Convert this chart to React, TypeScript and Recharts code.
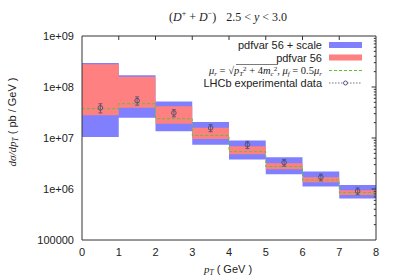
import {
  ComposedChart,
  Area,
  Line,
  Scatter,
  ErrorBar,
  XAxis,
  YAxis,
  ReferenceLine,
} from "recharts";

// bins in pT (GeV)
const binEdges = [0, 1, 2, 3, 4, 5, 6, 7, 8];
const binCenters = [0.5, 1.5, 2.5, 3.5, 4.5, 5.5, 6.5, 7.5];

// pdfvar 56 + scale band
const scaleLow = [1.05e7, 2.5e7, 1.36e7, 7.4e6, 3.8e6, 1.95e6, 1.12e6, 6.5e5];
const scaleHigh = [2.95e8, 1.7e8, 5.2e7, 2.05e7, 8.9e6, 4.2e6, 2.2e6, 1.2e6];
// pdfvar 56 band
const pdfLow = [2.8e7, 3.9e7, 1.9e7, 9.6e6, 4.8e6, 2.45e6, 1.35e6, 7.6e5];
const pdfHigh = [2.8e8, 1.58e8, 4.2e7, 1.58e7, 6.9e6, 3.2e6, 1.7e6, 9.5e5];
// central scale choice
const central = [3.76e7, 4.7e7, 2.39e7, 1.12e7, 5.4e6, 2.76e6, 1.5e6, 8.5e5];
// LHCb data
const lhcb = [3.9e7, 5.4e7, 3.1e7, 1.58e7, 7.4e6, 3.3e6, 1.7e6, 9.1e5];
const lhcbErr = [8e6, 1e7, 5e6, 2.5e6, 1.2e6, 5e5, 2.6e5, 1.4e5];

const yTicks = [1e5, 1e6, 1e7, 1e8, 1e9];
const xTicks = [0, 1, 2, 3, 4, 5, 6, 7, 8];

const rows = binEdges.map((x, i) => {
  const k = Math.min(i, scaleLow.length - 1);
  return {
    x,
    scale: [scaleLow[k], scaleHigh[k]],
    pdf: [pdfLow[k], pdfHigh[k]],
    central: central[k],
  };
});

const points = binCenters.map((x, i) => ({ x, y: lhcb[i], err: lhcbErr[i] }));

const fmtY = (v: number) => (v === 1e5 ? "100000" : "1e+0" + Math.round(Math.log10(v)));

// minor ticks on the right border
const minorTicks: number[] = [];
[1e5, 1e6, 1e7, 1e8].forEach((d) => {
  for (let m = 2; m <= 9; m++) minorTicks.push(d * m);
});

const SANS = "'Liberation Sans', Arial, sans-serif";
const SERIF = "'Liberation Serif', 'DejaVu Serif', serif";
const INK = "#333";
const BLUE = "#8080ff";
const RED = "#ff8080";
const GREEN = "#5cc23c";
const DATA = "#4a4a70";

const DataPoint = (props: any) => {
  const { cx, cy } = props;
  return <circle cx={cx} cy={cy} r={2.3} fill="none" stroke={DATA} strokeWidth={0.9} />;
};

export default function App() {
  return (
    <div
      style={{
        position: "absolute",
        left: 0,
        top: 0,
        width: 398,
        height: 279,
        background: "#fff",
      }}
    >
      <ComposedChart
        width={398}
        height={279}
        data={rows}
        margin={{ top: 36, right: 22, bottom: 0, left: 0 }}
      >
        <XAxis
          dataKey="x"
          type="number"
          domain={[0, 8]}
          ticks={xTicks}
          interval={0}
          height={39}
          tickLine={false}
          axisLine={{ stroke: INK }}
          tick={{ fontSize: 11, fontFamily: SANS, fill: "#222" }}
        />
        <YAxis
          scale="log"
          domain={[1e5, 1e9]}
          ticks={yTicks}
          interval={0}
          allowDataOverflow
          width={82}
          tickLine={false}
          axisLine={{ stroke: INK }}
          tickFormatter={fmtY}
          tick={{ fontSize: 11, fontFamily: SANS, fill: "#222" }}
        />
        <Area
          type="stepAfter"
          dataKey="scale"
          fill={BLUE}
          fillOpacity={1}
          stroke="none"
          isAnimationActive={false}
        />
        <Area
          type="stepAfter"
          dataKey="pdf"
          fill={RED}
          fillOpacity={1}
          stroke="none"
          isAnimationActive={false}
        />
        <Line
          type="stepAfter"
          dataKey="central"
          stroke={GREEN}
          strokeWidth={1}
          strokeDasharray="3 2"
          dot={false}
          isAnimationActive={false}
        />
        <Scatter
          data={points}
          dataKey="y"
          shape={<DataPoint />}
          isAnimationActive={false}
        >
          <ErrorBar dataKey="err" direction="y" width={2} stroke={DATA} strokeWidth={0.8} />
        </Scatter>
        <ReferenceLine y={1e9} stroke={INK} />
        <ReferenceLine x={8} stroke={INK} />
        {xTicks.slice(1, -1).map((x) => (
          <ReferenceLine
            key={"tx" + x}
            segment={[
              { x, y: 1e9 },
              { x, y: 1e9 / 1.2 },
            ]}
            stroke={INK}
          />
        ))}
        {yTicks.slice(1, -1).map((y) => (
          <ReferenceLine
            key={"ry" + y}
            segment={[
              { x: 8, y },
              { x: 7.88, y },
            ]}
            stroke={INK}
          />
        ))}
        {minorTicks.map((y) => (
          <ReferenceLine
            key={"my" + y}
            segment={[
              { x: 8, y },
              { x: 7.94, y },
            ]}
            stroke={INK}
          />
        ))}
      </ComposedChart>

      <svg
        width={398}
        height={279}
        style={{ position: "absolute", left: 0, top: 0, pointerEvents: "none" }}
      >
        {/* title */}
        <text x={228} y={21} textAnchor="middle" fontFamily={SERIF} fontSize={12} fill="#222">
          (<tspan fontStyle="italic">D</tspan>
          <tspan fontSize={8} dy={-5}>+</tspan>
          <tspan dy={5}> + </tspan>
          <tspan fontStyle="italic">D</tspan>
          <tspan fontSize={8} dy={-5}>−</tspan>
          <tspan dy={5}>)</tspan>
          <tspan dx={10}>2.5 &lt; </tspan>
          <tspan fontStyle="italic">y</tspan>
          <tspan> &lt; 3.0</tspan>
        </text>

        {/* legend */}
        <text x={322} y={49} textAnchor="end" fontFamily={SANS} fontSize={11} fill="#222">
          pdfvar 56 + scale
        </text>
        <rect x={329} y={42} width={33} height={6} fill={BLUE} />
        <text x={322} y={61.5} textAnchor="end" fontFamily={SANS} fontSize={11} fill="#222">
          pdfvar 56
        </text>
        <rect x={329} y={54.5} width={33} height={6} fill={RED} />
        <text x={322} y={74} textAnchor="end" fontFamily={SERIF} fontSize={10.5} fill="#222">
          <tspan fontStyle="italic">μ</tspan>
          <tspan fontSize={7} fontStyle="italic" dy={2}>r</tspan>
          <tspan dy={-2}> = √</tspan>
          <tspan fontStyle="italic">p</tspan>
          <tspan fontSize={7} fontStyle="italic" dy={2}>T</tspan>
          <tspan fontSize={7} dy={-5}>2</tspan>
          <tspan dy={3}> + 4</tspan>
          <tspan fontStyle="italic">m</tspan>
          <tspan fontSize={7} fontStyle="italic" dy={2}>c</tspan>
          <tspan fontSize={7} dy={-5}>2</tspan>
          <tspan dy={3}>, </tspan>
          <tspan fontStyle="italic">μ</tspan>
          <tspan fontSize={7} fontStyle="italic" dy={2}>f</tspan>
          <tspan dy={-2}> = 0.5</tspan>
          <tspan fontStyle="italic">μ</tspan>
          <tspan fontSize={7} fontStyle="italic" dy={2}>r</tspan>
        </text>
        <line x1={236} y1={64.5} x2={278} y2={64.5} stroke="#222" strokeWidth={0.6} />
        <line x1={329} y1={70.5} x2={362} y2={70.5} stroke={GREEN} strokeDasharray="3 2" />
        <text x={322} y={86.5} textAnchor="end" fontFamily={SANS} fontSize={11} fill="#222">
          LHCb experimental data
        </text>
        <line x1={329} y1={83} x2={362} y2={83} stroke={DATA} strokeDasharray="1.5 1.5" strokeWidth={0.8} />
        <circle cx={345.5} cy={83} r={2} fill="#fff" stroke={DATA} strokeWidth={0.9} />

        {/* axis titles */}
        <text
          transform="translate(16,122) rotate(-90)"
          textAnchor="middle"
          fontSize={11}
          fill="#222"
          fontFamily={SANS}
        >
          <tspan fontFamily={SERIF} fontStyle="italic">dσ/dp</tspan>
          <tspan fontFamily={SERIF} fontStyle="italic" fontSize={7.5} dy={2}>T</tspan>
          <tspan dy={-2}> ( pb / GeV )</tspan>
        </text>
        <text x={228} y={273} textAnchor="middle" fontSize={11} fill="#222" fontFamily={SANS}>
          <tspan fontFamily={SERIF} fontStyle="italic">p</tspan>
          <tspan fontFamily={SERIF} fontStyle="italic" fontSize={7.5} dy={2}>T</tspan>
          <tspan dy={-2}> ( GeV )</tspan>
        </text>
      </svg>
    </div>
  );
}
